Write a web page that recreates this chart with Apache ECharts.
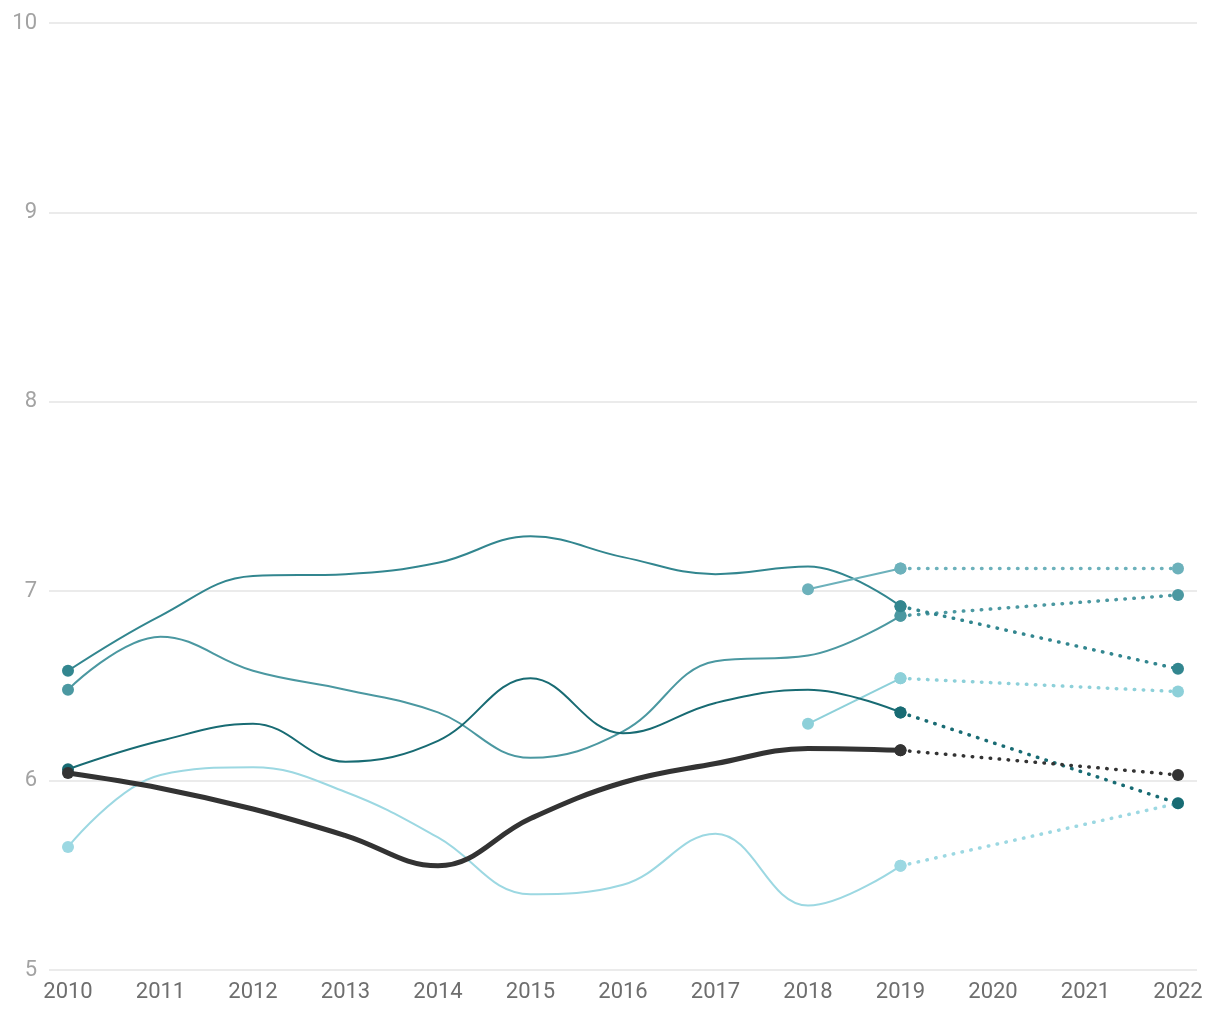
<!DOCTYPE html>
<html>
<head>
<meta charset="utf-8">
<script src="https://cdn.jsdelivr.net/npm/echarts@6/dist/echarts.min.js"></script>
<style>
html,body{margin:0;padding:0;background:#fff;}
#chart{width:1220px;height:1020px;}
</style>
</head>
<body>
<div id="chart"></div>
<script>
// ---- data ----
var years = [2010, 2011, 2012, 2013, 2014, 2015, 2016, 2017, 2018, 2019];
var yearsShort = [2018, 2019];
var yearsProj = [2019, 2022];
var xTickLabels = [2010, 2011, 2012, 2013, 2014, 2015, 2016, 2017, 2018, 2019, 2020, 2021, 2022];
var yTickLabels = [5, 6, 7, 8, 9, 10];

var seriesA = [6.58, 6.87, 7.08, 7.09, 7.15, 7.29, 7.18, 7.09, 7.13, 6.92];
var seriesB = [6.48, 6.76, 6.58, 6.48, 6.36, 6.12, 6.26, 6.63, 6.66, 6.87];
var seriesC = [6.06, 6.21, 6.30, 6.10, 6.21, 6.54, 6.25, 6.41, 6.48, 6.36];
var seriesD = [5.65, 6.03, 6.07, 5.94, 5.70, 5.40, 5.45, 5.72, 5.34, 5.55];
var seriesAvg = [6.04, 5.96, 5.85, 5.71, 5.55, 5.80, 5.99, 6.09, 6.17, 6.16];
var seriesE = [7.01, 7.12];
var seriesF = [6.30, 6.54];

var projA = [6.92, 6.59];
var projB = [6.87, 6.98];
var projC = [6.36, 5.88];
var projD = [5.55, 5.88];
var projAvg = [6.16, 6.03];
var projE = [7.12, 7.12];
var projF = [6.54, 6.47];

// ---- build ----
function solidData(xs, vals) {
  return vals.map(function (v, i) {
    var isEnd = (i === 0 || i === vals.length - 1);
    return { value: [xs[i], v], symbol: isEnd ? 'circle' : 'none' };
  });
}
function pairData(xs, vals) {
  return vals.map(function (v, i) { return [xs[i], v]; });
}
function solid(name, xs, vals, color, width, z) {
  return {
    name: name, type: 'line', smooth: 0.4, z: z,
    data: solidData(xs, vals),
    symbol: 'circle', symbolSize: 12, showSymbol: true,
    lineStyle: { color: color, width: width },
    itemStyle: { color: color },
    silent: true, animation: false
  };
}
function dotted(name, vals, color, z) {
  return {
    name: name, type: 'line', z: z,
    data: pairData(yearsProj, vals),
    symbol: 'circle', symbolSize: 12,
    lineStyle: { color: color, width: 3.5, type: [0.5, 8.5], cap: 'round' },
    itemStyle: { color: color },
    silent: true, animation: false
  };
}

var cA = '#32868f', cB = '#4b98a1', cC = '#186b73', cD = '#9cd8e2', cAvg = '#333333', cE = '#6cb1bb', cF = '#8dd0d9';

var chart = echarts.init(document.getElementById('chart'));
chart.setOption({
  animation: false,
  backgroundColor: '#ffffff',
  grid: { left: 49, right: 23, top: 23, bottom: 50, containLabel: false },
  xAxis: {
    type: 'value',
    min: 2010 - 19 / 92.5,
    max: 2022 + 19 / 92.5,
    minInterval: 1, maxInterval: 1, splitNumber: 12,
    axisLine: { show: false }, axisTick: { show: false }, splitLine: { show: false },
    axisLabel: {
      color: '#6e6e6e', fontFamily: 'Roboto', fontSize: 22, margin: 11,
      showMinLabel: false, showMaxLabel: false,
      formatter: function (v) {
        var r = Math.round(v);
        return (Math.abs(v - r) < 1e-6 && xTickLabels.indexOf(r) >= 0) ? String(r) : '';
      }
    }
  },
  yAxis: {
    type: 'value', min: 5, max: 10, interval: 1,
    axisLine: { show: false }, axisTick: { show: false },
    splitLine: { lineStyle: { color: '#e4e4e4', width: 1.5 } },
    axisLabel: {
      color: '#a3a3a3', fontFamily: 'Roboto', fontSize: 22, margin: 12,
      formatter: function (v) { return yTickLabels.indexOf(v) >= 0 ? String(v) : ''; }
    }
  },
  series: [
    solid('D', years, seriesD, cD, 2, 2),
    solid('B', years, seriesB, cB, 2, 3),
    solid('A', years, seriesA, cA, 2, 3),
    solid('C', years, seriesC, cC, 2, 4),
    solid('E', yearsShort, seriesE, cE, 2, 3),
    solid('F', yearsShort, seriesF, cF, 2, 3),
    solid('Avg', years, seriesAvg, cAvg, 5, 6),
    dotted('Dp', projD, cD, 2),
    dotted('Ep', projE, cE, 3),
    dotted('Fp', projF, cF, 3),
    dotted('Bp', projB, cB, 3),
    dotted('Ap', projA, cA, 3),
    dotted('Cp', projC, cC, 4),
    dotted('Avgp', projAvg, cAvg, 5)
  ]
});
</script>
</body>
</html>
